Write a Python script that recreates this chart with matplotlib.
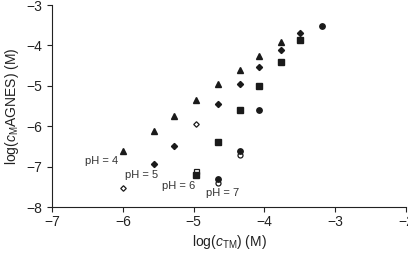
import numpy as np
import matplotlib
matplotlib.use("Agg")
import matplotlib.pyplot as plt

plt.rcParams['font.family'] = ['Liberation Sans', 'DejaVu Sans']
plt.rcParams['mathtext.fontset'] = 'custom'
plt.rcParams['mathtext.rm'] = 'Liberation Sans'
plt.rcParams['mathtext.it'] = 'Liberation Sans:italic'

# pH 4 (filled triangles)
x_ph4 = [-6.0, -5.56, -5.27, -4.96, -4.65, -4.35, -4.07, -3.77]
y_ph4 = [-6.61, -6.12, -5.75, -5.36, -4.95, -4.61, -4.26, -3.92]

# pH 5 (filled diamonds, open diamonds)
x_ph5 = [-5.56, -5.27, -4.65, -4.35, -4.07, -3.77, -3.49]
y_ph5 = [-6.93, -6.48, -5.45, -4.96, -4.53, -4.11, -3.68]
x_ph5_open = [-6.0, -4.96]
y_ph5_open = [-7.53, -5.95]

# pH 6 (filled squares, open square)
x_ph6 = [-4.96, -4.65, -4.35, -4.07, -3.77, -3.49]
y_ph6 = [-7.2, -6.38, -5.6, -5.0, -4.42, -3.87]
x_ph6_open = [-4.96]
y_ph6_open = [-7.1]

# pH 7 (filled circles, open circles)
x_ph7 = [-4.65, -4.35, -4.07, -3.19]
y_ph7 = [-7.3, -6.62, -5.6, -3.52]
x_ph7_open = [-4.65, -4.35]
y_ph7_open = [-7.4, -6.7]

labels = ["pH = 4", "pH = 5", "pH = 6", "pH = 7"]
label_x = [-6.06, -5.97, -5.44, -4.82]
label_y = [-6.85, -7.21, -7.48, -7.65]
label_ha = ["right", "left", "left", "left"]

fig = plt.figure(figsize=(4.08, 2.54), dpi=100)
ax = fig.add_axes([0.1275, 0.185, 0.8675, 0.795])

c = '#1a1a1a'
ax.plot(x_ph5_open, y_ph5_open, 'D', ms=2.8, mfc='white', mec=c, mew=0.9, ls='none')
ax.plot(x_ph6_open, y_ph6_open, 's', ms=3.6, mfc='white', mec=c, mew=0.9, ls='none')
ax.plot(x_ph7_open, y_ph7_open, 'o', ms=3.6, mfc='white', mec=c, mew=0.9, ls='none')
ax.plot(x_ph4, y_ph4, '^', ms=4.3, color=c, ls='none')
ax.plot(x_ph5, y_ph5, 'D', ms=3.1, color=c, ls='none')
ax.plot(x_ph6, y_ph6, 's', ms=3.7, color=c, ls='none')
ax.plot(x_ph7, y_ph7, 'o', ms=3.9, color=c, ls='none')

for t, tx, ty, ha in zip(labels, label_x, label_y, label_ha):
    ax.text(tx, ty, t, ha=ha, va='center', fontsize=8, color='#333333')

ax.set_xlim(-7, -2)
ax.set_ylim(-8, -3)
ax.set_xticks([-7, -6, -5, -4, -3, -2])
ax.set_yticks([-8, -7, -6, -5, -4, -3])
ax.spines['top'].set_visible(False)
ax.spines['right'].set_visible(False)
for s in ['left', 'bottom']:
    ax.spines[s].set_linewidth(0.8)
    ax.spines[s].set_color('#222222')
ax.tick_params(direction='out', length=3.5, width=0.8, labelsize=10, colors='#222222')
ax.tick_params(axis='x', pad=2)

ax.set_xlabel(r'log($\mathit{c}_{\mathrm{TM}}$) (M)', fontsize=10, color='#222222', labelpad=3)
ax.set_ylabel(r'log($\mathit{c}_{\mathrm{M}}$AGNES) (M)', fontsize=10, color='#222222', labelpad=4)

fig.savefig('out.png', dpi=100)
